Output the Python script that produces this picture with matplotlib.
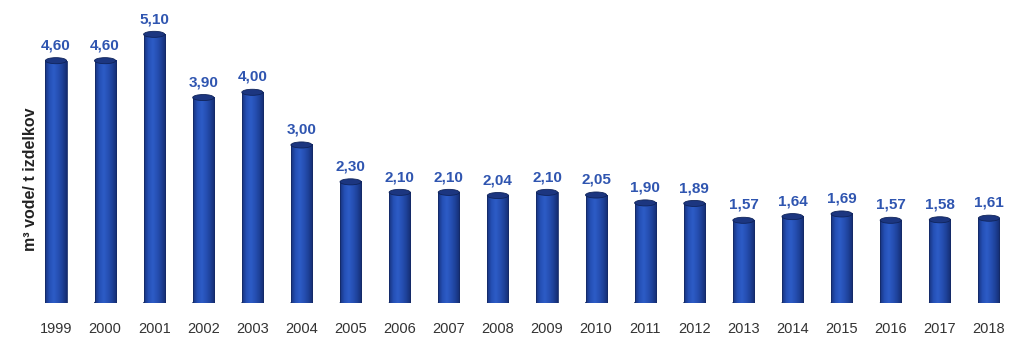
import numpy as np
import matplotlib.pyplot as plt
from matplotlib.patches import Ellipse
from matplotlib.colors import LinearSegmentedColormap

plt.rcParams['font.family'] = ['Liberation Sans', 'DejaVu Sans']

years = ['1999', '2000', '2001', '2002', '2003', '2004', '2005', '2006', '2007', '2008',
         '2009', '2010', '2011', '2012', '2013', '2014', '2015', '2016', '2017', '2018']
values = [4.60, 4.60, 5.10, 3.90, 4.00, 3.00, 2.30, 2.10, 2.10, 2.04,
          2.10, 2.05, 1.90, 1.89, 1.57, 1.64, 1.69, 1.57, 1.58, 1.61]

fig = plt.figure(figsize=(10.24, 3.48), dpi=100)
ax = fig.add_axes([26.5 / 1024, 45 / 348, (1018.4 - 26.5) / 1024, 295 / 348])

x = np.arange(len(years))
bw = 0.43
bars = ax.bar(x, values, width=bw, color='none', edgecolor='none')

# horizontal shading for the cylinder body
body = LinearSegmentedColormap.from_list(
    'body', ['#17327d', '#2550b6', '#2d5cc6', '#2650b4', '#1e4198', '#142c70'])
grad = np.linspace(0, 1, 64).reshape(1, -1)
eh = 0.115

for rect, v in zip(bars, values):
    x0 = rect.get_x()
    w = rect.get_width()
    cx = x0 + w / 2
    # bottom cap
    ax.add_patch(Ellipse((cx, 0), w, eh, facecolor='#1f4398',
                         edgecolor='#142a66', lw=0.6, zorder=1))
    ax.imshow(grad, cmap=body, extent=(x0, x0 + w, 0, v),
              aspect='auto', zorder=2, interpolation='bilinear')
    ax.plot([x0, x0], [0, v], color='#142a66', lw=0.6, zorder=3)
    ax.plot([x0 + w, x0 + w], [0, v], color='#142a66', lw=0.6, zorder=3)
    # top cap
    ax.add_patch(Ellipse((cx, v), w, eh, facecolor='#1c3680',
                         edgecolor='#10245a', lw=0.6, zorder=4))
    ax.annotate(f'{v:.2f}'.replace('.', ','), (cx, v), xytext=(0, 6),
                textcoords='offset points', ha='center', va='bottom',
                fontsize=11, fontweight='bold', color='#2f55b0')

ax.set_xlim(-0.6, 19.6)
ax.set_ylim(0, 5.6)
ax.set_xticks(x)
ax.set_xticklabels(years, fontsize=10.5, color='#333333')
ax.tick_params(axis='x', length=0, pad=14)
ax.set_yticks([])
for s in ax.spines.values():
    s.set_visible(False)

fig.text(31 / 1024, 1 - 179 / 348, 'm³ vode/ t izdelkov', rotation=90,
         ha='center', va='center', fontsize=11.5, fontweight='bold', color='#222222')

fig.savefig('out.png', dpi=100)
